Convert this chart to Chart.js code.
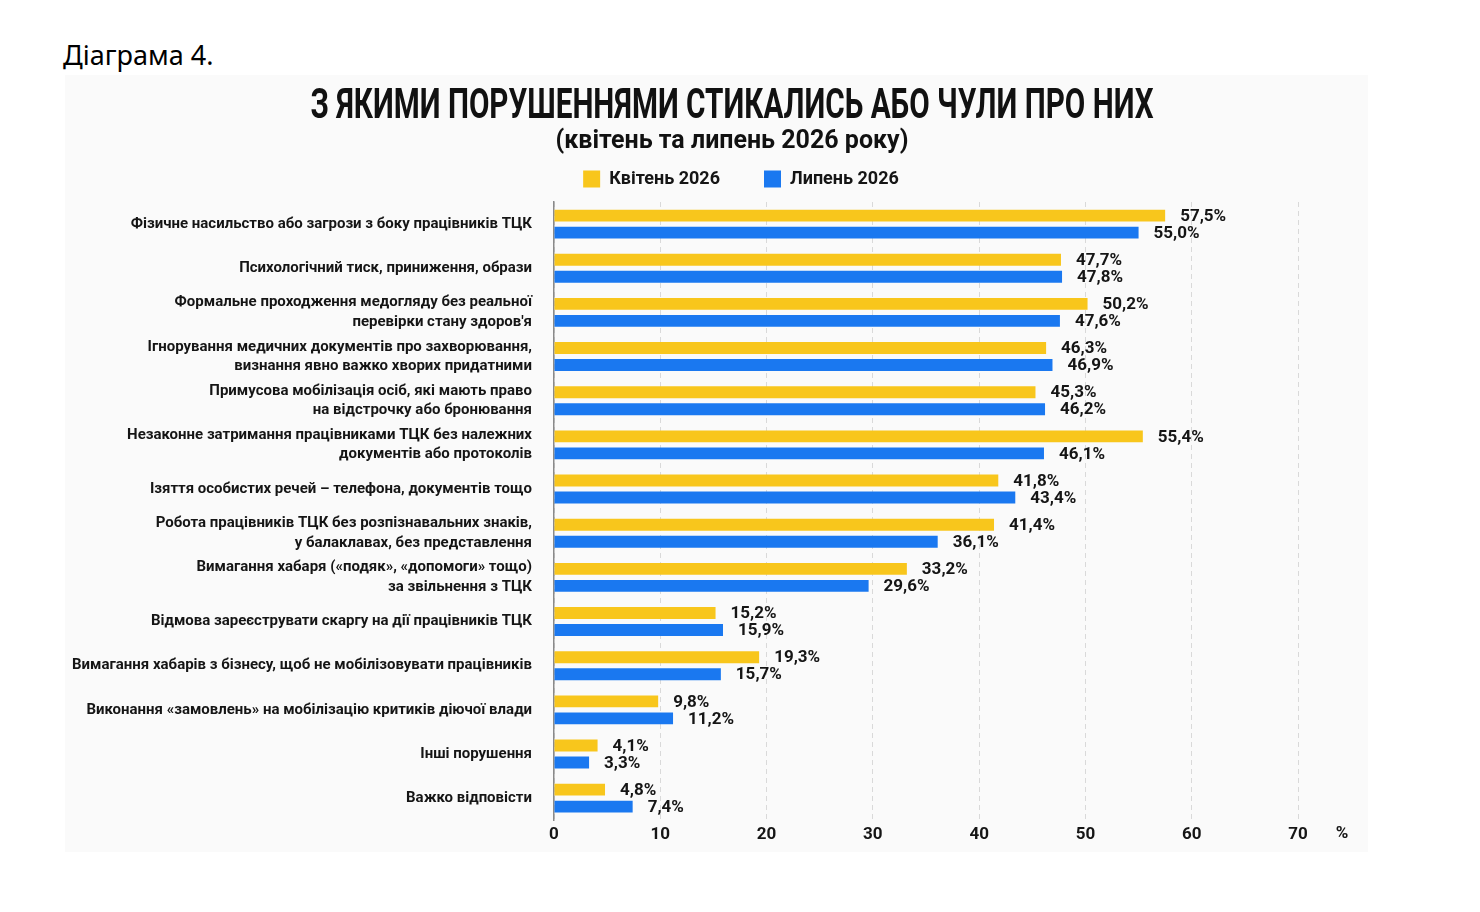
<!DOCTYPE html>
<html>
<head>
<meta charset="utf-8">
<script src="https://cdn.jsdelivr.net/npm/chart.js@4.4.1/dist/chart.umd.min.js"></script>
<style>
  html, body { margin: 0; padding: 0; background: #ffffff; }
  body { width: 1480px; height: 912px; position: relative; overflow: hidden; }
  #head { position: absolute; left: 63px; top: 37px; font-family: 'Noto Sans', 'Open Sans', sans-serif; font-size: 27px; color: #000; line-height: 36px; }
  #panel { position: absolute; left: 65px; top: 75px; width: 1303px; height: 777px; background: #fafafa; }
  #panel canvas { display: block; }
</style>
</head>
<body>
<div id="head">Діаграма 4.</div>
<div id="panel"><canvas id="c" width="1303" height="777"></canvas></div>
<script>
const categories = [
  'Фізичне насильство або загрози з боку працівників ТЦК',
  'Психологічний тиск, приниження, образи',
  ['Формальне проходження медогляду без реальної', 'перевірки стану здоров\'я'],
  ['Ігнорування медичних документів про захворювання,', 'визнання явно важко хворих придатними'],
  ['Примусова мобілізація осіб, які мають право', 'на відстрочку або бронювання'],
  ['Незаконне затримання працівниками ТЦК без належних', 'документів або протоколів'],
  'Ізяття особистих речей – телефона, документів тощо',
  ['Робота працівників ТЦК без розпізнавальних знаків,', 'у балаклавах, без представлення'],
  ['Вимагання хабаря («подяк», «допомоги» тощо)', 'за звільнення з ТЦК'],
  'Відмова зареєструвати скаргу на дії працівників ТЦК',
  'Вимагання хабарів з бізнесу, щоб не мобілізовувати працівників',
  'Виконання «замовлень» на мобілізацію критиків діючої влади',
  'Інші порушення',
  'Важко відповісти'
];
const seriesNames = ['Квітень 2026', 'Липень 2026'];
const april = [57.5, 47.7, 50.2, 46.3, 45.3, 55.4, 41.8, 41.4, 33.2, 15.2, 19.3, 9.8, 4.1, 4.8];
const july  = [55.0, 47.8, 47.6, 46.9, 46.2, 46.1, 43.4, 36.1, 29.6, 15.9, 15.7, 11.2, 3.3, 7.4];
const xTicks = [0, 10, 20, 30, 40, 50, 60, 70];
const unitLabel = '%';
const titleText = 'З ЯКИМИ ПОРУШЕННЯМИ СТИКАЛИСЬ АБО ЧУЛИ ПРО НИХ';
const subtitleText = '(квітень та липень 2026 року)';

const ROBO = "Roboto, 'Liberation Sans', sans-serif";
const YELLOW = '#f8c61c';
const BLUE = '#1a78f0';

const fmt = v => v.toFixed(1).replace('.', ',') + '%';

const legendGap = {
  id: 'legendGap',
  afterInit(chart) {
    const lg = chart.legend;
    if (lg && !lg._gapWrapped) {
      const orig = lg.fit;
      lg.fit = function () { orig.call(this); this.height += 4; };
      lg._gapWrapped = true;
    }
  }
};

const headings = {
  id: 'headings',
  afterDraw(chart) {
    const ctx = chart.ctx;
    ctx.save();
    ctx.fillStyle = '#111';
    ctx.textAlign = 'center';
    ctx.textBaseline = 'alphabetic';
    ctx.font = 'bold 42px ' + ROBO;
    ctx.fillText(titleText, 667, 43, 843);
    ctx.font = 'bold 25px ' + ROBO;
    ctx.fillText(subtitleText, 667, 73, 358);
    ctx.restore();
  }
};

const valueLabels = {
  id: 'valueLabels',
  afterDatasetsDraw(chart) {
    const ctx = chart.ctx;
    ctx.save();
    ctx.font = 'bold 17px ' + ROBO;
    ctx.fillStyle = '#151515';
    ctx.textAlign = 'left';
    ctx.textBaseline = 'middle';
    chart.data.datasets.forEach((ds, di) => {
      const meta = chart.getDatasetMeta(di);
      meta.data.forEach((el, i) => {
        ctx.fillText(fmt(ds.data[i]), el.x + 15, el.y + 1);
      });
    });
    const xs = chart.scales.x;
    ctx.font = 'bold 17px ' + ROBO;
    ctx.textAlign = 'center';
    ctx.fillText(unitLabel, xs.right + 44, xs.top + 13);
    ctx.restore();
  }
};

new Chart(document.getElementById('c'), {
  type: 'bar',
  data: {
    labels: categories,
    datasets: [
      { label: seriesNames[0], data: april, backgroundColor: YELLOW, categoryPercentage: 0.77, barPercentage: 0.7 },
      { label: seriesNames[1], data: july, backgroundColor: BLUE, categoryPercentage: 0.77, barPercentage: 0.7 }
    ]
  },
  options: {
    indexAxis: 'y',
    responsive: false,
    animation: false,
    devicePixelRatio: 1,
    layout: { padding: { left: 119, right: 70, top: 51, bottom: 0 } },
    scales: {
      x: {
        min: 0, max: 70,
        afterBuildTicks(s) { s.ticks = xTicks.map(v => ({ value: v })); },
        afterFit(s) { s.height = 30.5; },
        grid: { color: '#d9d9d9', lineWidth: 1, drawTicks: false },
        border: { display: false, dash: [5, 4] },
        ticks: { padding: 4, color: '#151515', font: { family: ROBO, size: 17, weight: 'bold' } }
      },
      y: {
        afterFit(s) { s.width = 370; s._computeLabelArea = function () { return undefined; }; },
        grid: { display: false, drawTicks: false },
        border: { display: true, color: '#8a8a8a', width: 1.5 },
        ticks: { autoSkip: false, padding: 22, color: '#151515', font: { family: ROBO, size: 15, weight: 'bold', lineHeight: 1.3 } }
      }
    },
    plugins: {
      title: { display: false },
      legend: {
        display: true, position: 'top',
        labels: {
          boxWidth: 17, boxHeight: 17, padding: 44, color: '#151515',
          font: { family: ROBO, size: 18, weight: 'bold' }
        }
      },
      tooltip: { enabled: false }
    }
  },
  plugins: [legendGap, valueLabels, headings]
});
</script>
</body>
</html>
